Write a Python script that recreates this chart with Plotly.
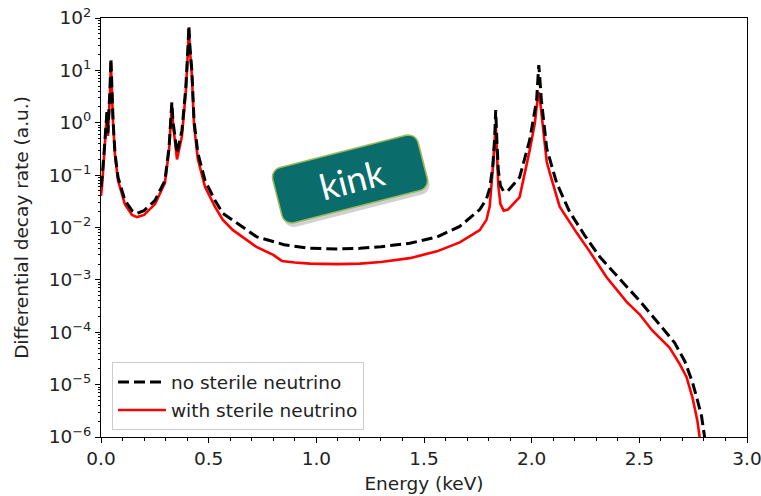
import numpy as np
import plotly.graph_objects as go

# ---------------- data ----------------
energy_no = [0.000, 0.005, 0.014, 0.023, 0.028, 0.032, 0.039, 0.042, 0.046, 0.050,
             0.053, 0.056, 0.065, 0.079, 0.111, 0.144, 0.167, 0.200, 0.251, 0.297,
             0.316, 0.325, 0.329, 0.334, 0.339, 0.353, 0.376, 0.394, 0.404, 0.408,
             0.413, 0.422, 0.432, 0.450, 0.483, 0.529, 0.566, 0.613, 0.724, 0.850,
             0.970, 1.100, 1.202, 1.300, 1.434, 1.560, 1.666, 1.759, 1.790, 1.805,
             1.819, 1.828, 1.833, 1.838, 1.845, 1.855, 1.870, 1.890, 1.944, 1.991,
             2.015, 2.023, 2.030, 2.033, 2.037, 2.045, 2.058, 2.070, 2.116, 2.176,
             2.246, 2.315, 2.408, 2.501, 2.594, 2.664, 2.711, 2.747, 2.770, 2.789,
             2.803, 2.810]
rate_no = [0.06, 0.09, 0.26, 1.1, 1.7, 0.63, 2.2, 4.8, 17.0, 4.0,
           1.6, 1.1, 0.26, 0.091, 0.033, 0.021, 0.0186, 0.021, 0.033, 0.079,
           0.34, 1.1, 2.45, 1.1, 0.72, 0.26, 0.72, 4.8, 28.0, 71.0,
           28.0, 10.0, 1.1, 0.26, 0.079, 0.033, 0.0186, 0.0138, 0.0066, 0.0047,
           0.0040, 0.0039, 0.0040, 0.0043, 0.0050, 0.0066, 0.0105, 0.022, 0.035, 0.056,
           0.14, 0.5, 1.75, 0.5, 0.126, 0.063, 0.049, 0.05, 0.091, 0.47,
           1.6, 2.7, 8.0, 12.6, 8.0, 2.7, 0.9, 0.32, 0.071, 0.020,
           0.0071, 0.0028, 0.00105, 0.0004, 0.00014, 6.3e-5, 2.8e-5, 1.1e-5, 5e-6, 2.5e-6,
           1e-6, 1e-7]

energy_st = [0.000, 0.005, 0.014, 0.023, 0.028, 0.032, 0.039, 0.042, 0.046, 0.050,
             0.053, 0.056, 0.065, 0.079, 0.111, 0.144, 0.167, 0.200, 0.251, 0.297,
             0.316, 0.325, 0.329, 0.334, 0.339, 0.353, 0.376, 0.394, 0.404, 0.408,
             0.413, 0.422, 0.432, 0.450, 0.483, 0.529, 0.566, 0.613, 0.724, 0.800,
             0.840, 0.900, 0.970, 1.100, 1.202, 1.300, 1.434, 1.560, 1.666, 1.759,
             1.790, 1.805, 1.819, 1.828, 1.833, 1.838, 1.845, 1.855, 1.870, 1.890,
             1.944, 1.991, 2.015, 2.023, 2.030, 2.033, 2.037, 2.045, 2.058, 2.070,
             2.084, 2.130, 2.209, 2.269, 2.348, 2.441, 2.501, 2.561, 2.640, 2.687,
             2.719, 2.747, 2.770, 2.780, 2.786]
rate_st = [0.04, 0.063, 0.22, 1.0, 1.6, 0.56, 2.0, 4.0, 14.0, 3.5,
           1.4, 1.0, 0.24, 0.079, 0.028, 0.0174, 0.0158, 0.0174, 0.028, 0.071,
           0.30, 1.0, 2.2, 1.0, 0.63, 0.2, 0.56, 4.0, 25.0, 63.0,
           25.0, 8.0, 0.9, 0.2, 0.06, 0.025, 0.014, 0.0089, 0.0042, 0.0030,
           0.0023, 0.00214, 0.00204, 0.0020, 0.00204, 0.0022, 0.0026, 0.0035, 0.0052, 0.0089,
           0.014, 0.025, 0.126, 0.4, 0.9, 0.32, 0.063, 0.028, 0.021, 0.022,
           0.038, 0.30, 1.0, 2.0, 3.2, 3.8, 3.2, 1.6, 0.5, 0.18,
           0.11, 0.025, 0.0079, 0.0035, 0.00112, 0.00038, 0.00022, 0.000107, 5.1e-5, 2.5e-5,
           1.4e-5, 5.6e-6, 2e-6, 1e-6, 1e-7]

series_names = ["no sterile neutrino", "with sterile neutrino"]
y_tick_vals = [1e-6, 1e-5, 1e-4, 1e-3, 1e-2, 1e-1, 1e0, 1e1, 1e2]
y_tick_text = ["10<sup>−6</sup>", "10<sup>−5</sup>", "10<sup>−4</sup>", "10<sup>−3</sup>",
               "10<sup>−2</sup>", "10<sup>−1</sup>", "10<sup>0</sup>", "10<sup>1</sup>",
               "10<sup>2</sup>"]
x_tick_vals = [0.0, 0.5, 1.0, 1.5, 2.0, 2.5, 3.0]
x_tick_text = ["0.0", "0.5", "1.0", "1.5", "2.0", "2.5", "3.0"]
label_text = "kink"

# ---------------- figure ----------------
W, H = 761, 496
ML, MR, MT, MB = 101, 14, 18, 59
PW, PH = W - ML - MR, H - MT - MB
FS = 18.5
TXT = "#222222"

fig = go.Figure()
fig.add_trace(go.Scatter(x=energy_st, y=rate_st, mode="lines", name=series_names[1],
                         line=dict(color="#ff0000", width=2.6), legendrank=2,
                         legendgroup="b"))
fig.add_trace(go.Scatter(x=energy_no, y=rate_no, mode="lines", name=series_names[0],
                         line=dict(color="#000000", width=3, dash="11px,5px"),
                         legendrank=1, legendgroup="a"))

minor_y = [k * 10.0 ** e for e in range(-6, 2) for k in range(2, 10)]

axis_common = dict(showline=True, linecolor="black", linewidth=1, mirror=True,
                   showgrid=False, zeroline=False, ticks="outside", ticklen=5,
                   tickwidth=1, tickcolor="black", automargin=False,
                   ticklabeloverflow="allow",
                   tickfont=dict(family="DejaVu Sans", size=FS, color=TXT))

fig.update_xaxes(range=[0, 3], tickmode="array", tickvals=x_tick_vals, ticktext=x_tick_text,
                 minor=dict(ticks="outside", ticklen=3, dtick=0.1, tick0=0,
                            tickcolor="black", showgrid=False),
                 title=dict(text="Energy (keV)", standoff=8,
                            font=dict(family="DejaVu Sans", size=FS, color=TXT)),
                 **axis_common)
fig.update_yaxes(type="log", range=[-6, 2], tickmode="array", tickvals=y_tick_vals,
                 ticktext=y_tick_text,
                 minor=dict(ticks="outside", ticklen=2.5, tickmode="array", tickvals=minor_y,
                            tickcolor="black", showgrid=False),
                 title=dict(text="Differential decay rate (a.u.)", standoff=15,
                            font=dict(family="DejaVu Sans", size=FS, color=TXT)),
                 **axis_common)


def px2paper(px, py):
    return (px - ML) / PW, (H - MB - py) / PH


def rounded_rect_path(cx, cy, w, h, r, ang_deg):
    th = np.deg2rad(ang_deg)
    u = np.array([np.cos(th), -np.sin(th)])
    v = np.array([np.sin(th), np.cos(th)])
    pts = []
    corners = [(w / 2 - r, -h / 2 + r, -90, 0), (w / 2 - r, h / 2 - r, 0, 90),
               (-w / 2 + r, h / 2 - r, 90, 180), (-w / 2 + r, -h / 2 + r, 180, 270)]
    for ccx, ccy, a0, a1 in corners:
        for a in np.linspace(a0, a1, 7):
            lx = ccx + r * np.cos(np.deg2rad(a))
            ly = ccy + r * np.sin(np.deg2rad(a))
            p = np.array([cx, cy]) + lx * u + ly * v
            pts.append(px2paper(p[0], p[1]))
    d = "M " + " L ".join(f"{x:.5f},{y:.5f}" for x, y in pts) + " Z"
    return d


cx, cy, bw, bh, ang = 350, 179, 150, 57, 14.3
fig.add_shape(type="path", xref="paper", yref="paper",
              path=rounded_rect_path(cx + 2, cy + 4, bw, bh, 10, ang),
              fillcolor="rgba(0,0,0,0.18)", line=dict(width=0), layer="above")
fig.add_shape(type="path", xref="paper", yref="paper",
              path=rounded_rect_path(cx, cy, bw, bh, 10, ang),
              fillcolor="#0b6d6b", line=dict(color="#9bbb59", width=1.5), layer="above")
ax_, ay_ = px2paper(cx + 2, cy)
fig.add_annotation(x=ax_, y=ay_, xref="paper", yref="paper", text=label_text,
                   showarrow=False, textangle=-ang,
                   font=dict(family="Lato", size=36, color="white"))

fig.update_layout(
    width=W, height=H,
    margin=dict(l=ML, r=MR, t=MT, b=MB, pad=0),
    paper_bgcolor="white", plot_bgcolor="white",
    font=dict(family="DejaVu Sans", size=FS, color=TXT),
    legend=dict(x=0.017, y=0.178, xanchor="left", yanchor="top",
                bgcolor="rgba(255,255,255,0.9)", bordercolor="#cccccc", borderwidth=1,
                font=dict(family="DejaVu Sans", size=FS, color=TXT),
                itemwidth=48,
                traceorder="grouped", tracegroupgap=1),
)

fig.write_html("out.html")
